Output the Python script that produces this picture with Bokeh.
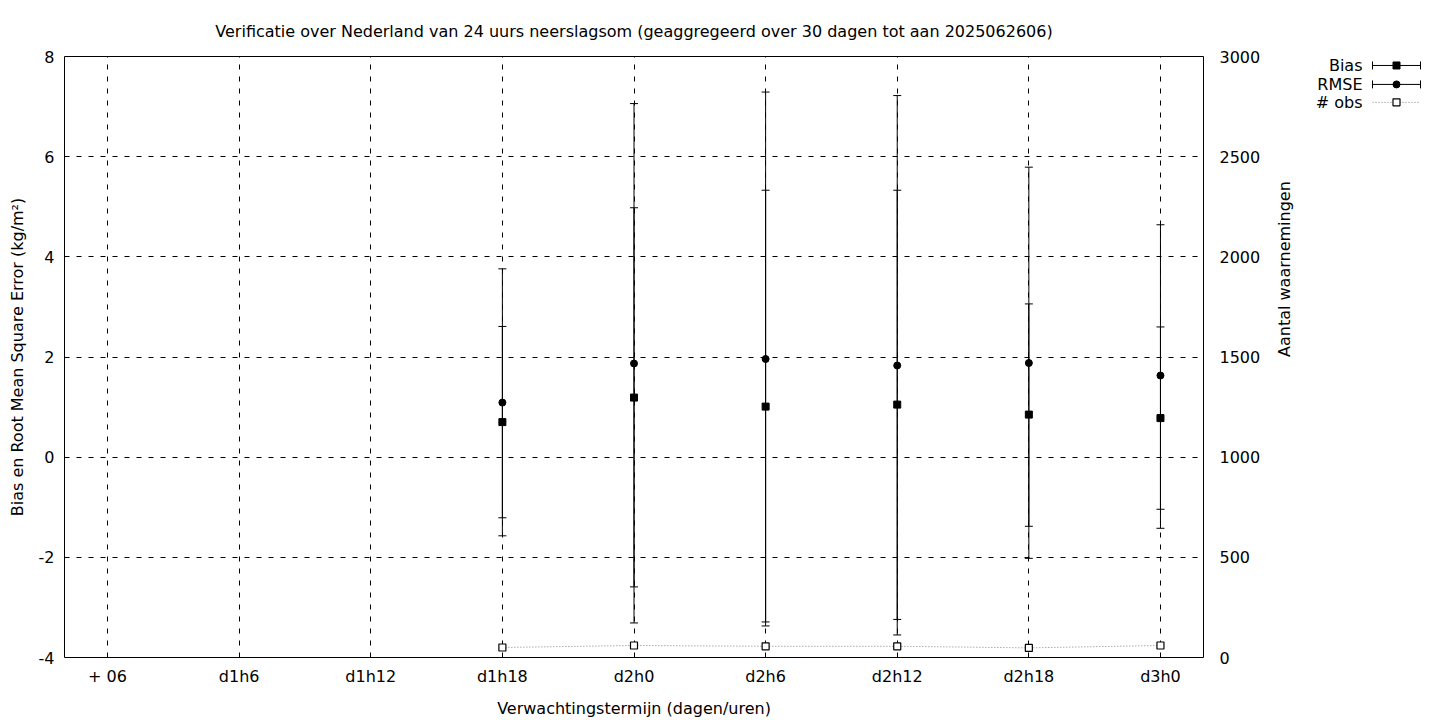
from bokeh.plotting import figure
from bokeh.models import Range1d, LinearAxis, FixedTicker, ColumnDataSource, Title
from bokeh.layouts import row
from bokeh.core.properties import value
from bokeh.embed import file_html
from bokeh.resources import INLINE
import math

# ---- data ----
categories = ["+ 06", "d1h6", "d1h12", "d1h18", "d2h0", "d2h6", "d2h12", "d2h18", "d3h0"]
lead = ["d1h18", "d2h0", "d2h6", "d2h12", "d2h18", "d3h0"]
bias = [0.70, 1.19, 1.01, 1.05, 0.85, 0.78]
bias_low = [-1.21, -2.59, -3.29, -3.24, -1.38, -1.04]
bias_high = [2.61, 4.98, 5.33, 5.33, 3.06, 2.60]
rmse = [1.09, 1.87, 1.96, 1.83, 1.88, 1.63]
rmse_low = [-1.57, -3.31, -3.37, -3.55, -2.02, -1.42]
rmse_high = [3.76, 7.06, 7.29, 7.22, 5.79, 4.64]
n_obs = [50, 60, 56, 56, 48, 60]

y_ticks = [-4, -2, 0, 2, 4, 6, 8]
y2_ticks = [0, 500, 1000, 1500, 2000, 2500, 3000]
legend_labels = ["Bias", "RMSE", "# obs"]

FONT = "DejaVu Sans"
FS = "16px"

xs = [categories.index(c) for c in lead]
src = ColumnDataSource(dict(x=xs, bias=bias, bl=bias_low, bh=bias_high,
                            rmse=rmse, rl=rmse_low, rh=rmse_high, n=n_obs))

p = figure(width=1306, height=720, output_backend="svg", toolbar_location=None,
           x_range=Range1d(-0.327, 8.327), y_range=Range1d(-4, 8),
           min_border_left=64, min_border_right=103, min_border_top=56, min_border_bottom=61)
p.extra_y_ranges = {"obs": Range1d(0, 3000)}

p.outline_line_color = "black"
p.outline_line_width = 1
p.outline_line_alpha = 1
p.background_fill_color = "white"
p.border_fill_color = "white"

p.title = Title(text="Verificatie over Nederland van 24 uurs neerslagsom (geaggregeerd over 30 dagen tot aan 2025062606)",
                align="center", text_font=FONT, text_font_size=FS, text_font_style="normal",
                text_color="black", standoff=32)

def style_axis(ax):
    ax.axis_line_color = None
    ax.major_tick_line_color = None
    ax.minor_tick_line_color = None
    ax.major_label_text_font = FONT
    ax.major_label_text_font_size = FS
    ax.major_label_text_color = "black"
    ax.axis_label_text_font = FONT
    ax.axis_label_text_font_size = FS
    ax.axis_label_text_font_style = "normal"
    ax.axis_label_text_color = "black"
    ax.major_tick_in = 0
    ax.major_tick_out = 0

xa = p.xaxis[0]
xa.ticker = FixedTicker(ticks=list(range(len(categories))))
xa.major_label_overrides = {i: c for i, c in enumerate(categories)}
xa.axis_label = "Verwachtingstermijn (dagen/uren)"
style_axis(xa)
xa.major_label_standoff = 9
xa.axis_label_standoff = 10

ya = p.yaxis[0]
ya.ticker = FixedTicker(ticks=y_ticks)
ya.major_label_overrides = {t: str(t) for t in y_ticks}
ya.axis_label = "Bias en Root Mean Square Error (kg/m²)"
style_axis(ya)
ya.major_label_standoff = 10
ya.axis_label_standoff = 9

ra = LinearAxis(y_range_name="obs", ticker=FixedTicker(ticks=y2_ticks),
                axis_label="Aantal waarnemingen")
style_axis(ra)
ra.major_label_standoff = 16
ra.axis_label_standoff = 21
try:
    ra.axis_label_orientation = math.pi / 2
except Exception:
    pass
p.add_layout(ra, "right")

for g in (p.xgrid[0], p.ygrid[0]):
    g.grid_line_color = "black"
    g.grid_line_dash = "5 7"
    g.grid_line_width = 1
p.xgrid[0].ticker = FixedTicker(ticks=list(range(len(categories))))
p.ygrid[0].ticker = FixedTicker(ticks=y_ticks)

# error bars: vertical segments + caps
p.segment("x", "bl", "x", "bh", source=src, line_color="black", line_width=1)
p.segment("x", "rl", "x", "rh", source=src, line_color="black", line_width=1)
for col in ("bl", "bh", "rl", "rh"):
    p.scatter("x", col, source=src, marker="dash", size=8, line_color="black", line_width=1)

# number of observations (right axis)
p.line("x", "n", source=src, y_range_name="obs", line_color="#808080", line_width=1, line_dash="1 2")
p.scatter("x", "n", source=src, y_range_name="obs", marker="square", size=7,
          fill_color="white", line_color="black", line_width=1.2)

p.scatter("x", "bias", source=src, marker="square", size=7, fill_color="black", line_color="black")
p.scatter("x", "rmse", source=src, marker="circle", size=7, fill_color="black", line_color="black")

# ---- legend key panel (gnuplot style: label, then sample) ----
# its plot area is aligned with the main plot area (page y 56..659)
lg = figure(width=126, height=720, output_backend="svg", toolbar_location=None,
            x_range=Range1d(0, 126), y_range=Range1d(659, 56),
            x_axis_location=None, y_axis_location=None,
            min_border_left=0, min_border_right=0, min_border_top=0, min_border_bottom=0)
lg.outline_line_color = None
lg.grid.visible = False
lg.background_fill_color = "white"
lg.border_fill_color = "white"

key_y = [65, 84, 102]
key = ColumnDataSource(dict(txt=legend_labels, y=key_y, tx=[56] * 3))
lg.text("tx", "y", text="txt", source=key, text_align="right", text_baseline="middle",
        text_font=value(FONT), text_font_size=FS, text_color="black")
eb = ColumnDataSource(dict(y=key_y[:2], x0=[66] * 2, x1=[114] * 2))
lg.segment("x0", "y", "x1", "y", source=eb, line_color="black", line_width=1)
lg.scatter("x0", "y", source=eb, marker="dash", angle=math.pi / 2, size=8, line_color="black")
lg.scatter("x1", "y", source=eb, marker="dash", angle=math.pi / 2, size=8, line_color="black")
lg.scatter([90], [key_y[0]], marker="square", size=7, fill_color="black", line_color="black")
lg.scatter([90], [key_y[1]], marker="circle", size=7, fill_color="black", line_color="black")
lg.segment([66], [key_y[2]], [114], [key_y[2]], line_color="#808080", line_width=1, line_dash="1 2")
lg.scatter([90], [key_y[2]], marker="square", size=7, fill_color="white", line_color="black", line_width=1.2)

layout = row(p, lg)
open("out.html", "w").write(file_html(layout, INLINE))
